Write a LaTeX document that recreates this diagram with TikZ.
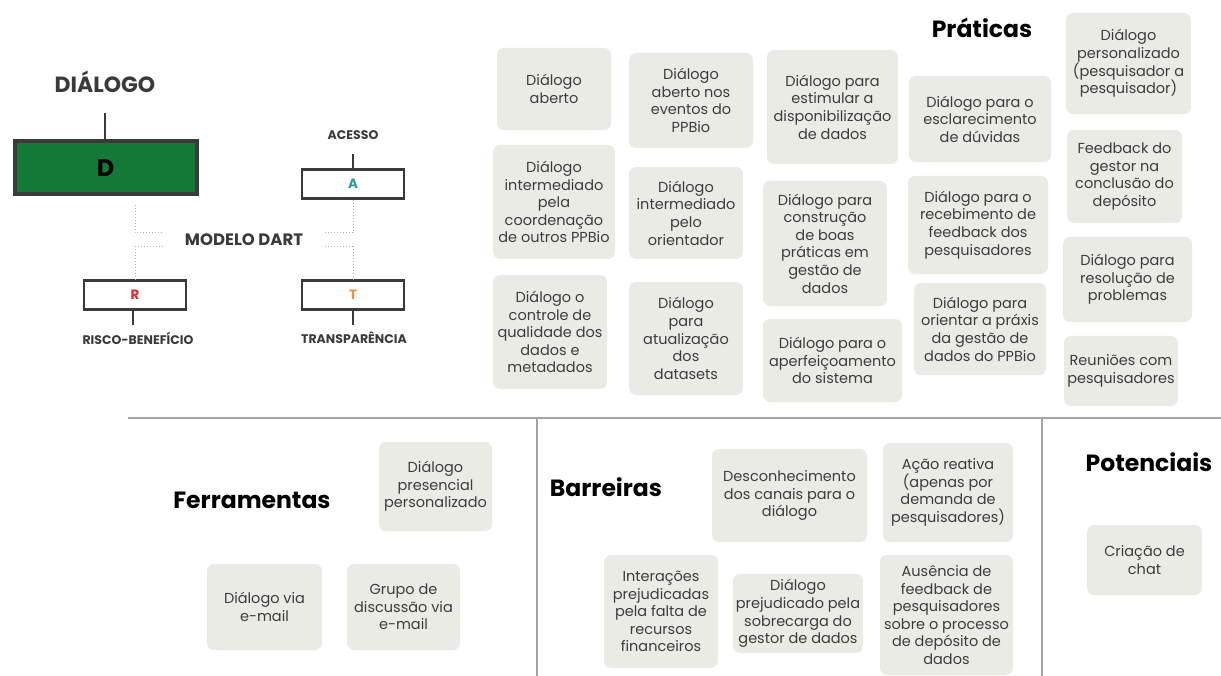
\documentclass[tikz,border=0pt]{standalone}
\usepackage{fontspec}
\setmainfont{Poppins}
\definecolor{boxgray}{HTML}{EBEBE6}
\definecolor{txtgray}{HTML}{3C3C3C}
\definecolor{sepgray}{HTML}{A3A3A3}
\definecolor{dgray}{HTML}{3A3A3A}
\definecolor{dgreen}{HTML}{117A37}
\definecolor{ateal}{HTML}{2A9D9A}
\definecolor{rred}{HTML}{E8262B}
\definecolor{torange}{HTML}{F0903C}
\definecolor{dotgray}{HTML}{B5B5B5}
\tikzset{
  gbox/.style={rounded corners=7pt, fill=boxgray, text=txtgray, align=center, inner sep=0pt,
    font=\fontsize{14.5}{17.6}\selectfont},
  heading/.style={font=\bfseries\fontsize{23.5}{25}\selectfont, text=black},
  dartlbl/.style={font=\bfseries\fontsize{12.5}{14}\selectfont, text=dgray},
  letterbox/.style={draw=dgray, line width=2.5pt, fill=white, minimum width=102pt, minimum height=29pt, inner sep=0pt,
    font=\bfseries\fontsize{13.5}{14}\selectfont},
  solidln/.style={draw=dgray, line width=2.5pt},
  dotln/.style={draw=dotgray, line width=1pt, dotted},
  sepln/.style={draw=sepgray, line width=1.3pt}
}
\newcommand\gb[6]{\node[gbox,minimum width={(#4)-(#2)},minimum height={(#5)-(#3)}] (#1) at ({((#2)+(#4))/2},{-((#3)+(#5))/2}) {#6};}
\begin{document}
\begin{tikzpicture}[x=1pt,y=1pt]
\useasboundingbox (0,0) rectangle (1221,-676);
\fill[white] (0,0) rectangle (1221,-676);

% ---------- DART model ----------
\node[font=\bfseries\fontsize{22}{22}\selectfont, text=dgray] (dialogo) at (105,-82) {DIÁLOGO};
\node[draw=dgray, line width=4pt, fill=dgreen, minimum width=182pt, minimum height=53pt, inner sep=0pt,
  font=\bfseries\fontsize{24}{24}\selectfont] (D) at (105.5,-168) {D};
\coordinate (dtop) at (105,-113);
\draw[solidln] (dtop) -- (D.north -| dtop);

\node[dartlbl] (acesso) at (353,-135) {ACESSO};
\node[letterbox, text=ateal] (A) at (353,-184) {A};
\coordinate (atop) at (353,-154);
\draw[solidln] (atop) -- (A.north);

\node[font=\bfseries\fontsize{16.5}{17}\selectfont, text=dgray] (modelo) at (244,-240) {MODELO DART};

\node[letterbox, text=rred] (R) at (135,-295) {R};
\node[letterbox, text=torange] (T) at (353,-295) {T};
\node[dartlbl] (risco) at (138,-338) {RISCO-BENEFÍCIO};
\node[dartlbl] (transp) at (354,-338) {TRANSPARÊNCIA};
\coordinate (rbot) at (133,-325);
\coordinate (tbot) at (353,-325);
\draw[solidln] (R.south -| rbot) -- (rbot);
\draw[solidln] (T.south) -- (tbot);

\coordinate (d1) at (135,-205);
\coordinate (d2) at (163,-233);
\coordinate (d3) at (163,-247);
\coordinate (a2) at (325,-233);
\coordinate (t2) at (325,-247);
\draw[dotln] (d1) |- (d2);
\draw[dotln] (d3) -| (R.north);
\draw[dotln] (A.south) |- (a2);
\draw[dotln] (t2) -| (T.north);

% ---------- separators ----------
\coordinate (h1) at (128,-418);
\coordinate (h2) at (1221,-418);
\coordinate (v1a) at (537,-418);
\coordinate (v1b) at (537,-676);
\coordinate (v2a) at (1042,-418);
\coordinate (v2b) at (1042,-676);
\draw[sepln] (h1) -- (h2);
\draw[sepln] (v1a) -- (v1b);
\draw[sepln] (v2a) -- (v2b);

% ---------- Práticas ----------
\node[heading] (praticas) at (982,-28) {Práticas};
\gb{p1}{497}{48}{611}{130}{Diálogo\\aberto}
\gb{p2}{629}{53}{753}{148}{Diálogo\\aberto nos\\eventos do\\PPBio}
\gb{p3}{767}{50}{898}{164}{Diálogo para\\estimular a\\disponibilização\\de dados}
\gb{p4}{909}{76}{1051}{162}{Diálogo para o\\esclarecimento\\de dúvidas}
\gb{p5}{1066}{13}{1191}{114}{Diálogo\\personalizado\\(pesquisador a\\pesquisador)}
\gb{p6}{493}{145}{615}{259}{Diálogo\\intermediado\\pela\\coordenação\\de outros PPBio}
\gb{p7}{629}{167}{743}{259}{Diálogo\\intermediado\\pelo\\orientador}
\gb{p8}{763}{181}{887}{306}{Diálogo para\\construção\\de boas\\práticas em\\gestão de\\dados}
\gb{p9}{908}{176}{1048}{274}{Diálogo para o\\recebimento de\\feedback dos\\pesquisadores}
\gb{p10}{1067}{130}{1182}{223}{Feedback do\\gestor na\\conclusão do\\depósito}
\gb{p11}{493}{275}{607}{389}{Diálogo o\\controle de\\qualidade dos\\dados e\\metadados}
\gb{p12}{629}{282}{743}{395}{Diálogo\\para\\atualização\\dos\\datasets}
\gb{p13}{763}{319}{902}{402}{Diálogo para o\\aperfeiçoamento\\do sistema}
\gb{p14}{914}{283}{1046}{375}{Diálogo para\\orientar a práxis\\da gestão de\\dados do PPBio}
\gb{p15}{1063}{237}{1192}{322}{Diálogo para\\resolução de\\problemas}
\gb{p16}{1064}{336}{1178}{406}{Reuniões com\\pesquisadores}

% ---------- Ferramentas ----------
\node[heading] (ferr) at (252,-500) {Ferramentas};
\gb{f1}{379}{442}{492}{531}{Diálogo\\presencial\\personalizado}
\gb{f2}{207}{564}{322}{650}{Diálogo via\\e-mail}
\gb{f3}{347}{564}{460}{650}{Grupo de\\discussão via\\e-mail}

% ---------- Barreiras ----------
\node[heading] (barr) at (606,-487) {Barreiras};
\gb{b1}{712}{449}{867}{542}{Desconhecimento\\dos canais para o\\diálogo}
\gb{b2}{883}{443}{1013}{542}{Ação reativa\\(apenas por\\demanda de\\pesquisadores)}
\gb{b3}{604}{555}{718}{668}{Interações\\prejudicadas\\pela falta de\\recursos\\financeiros}
\gb{b4}{733}{574}{863}{653}{Diálogo\\prejudicado pela\\sobrecarga do\\gestor de dados}
\gb{b5}{880}{555}{1013}{675}{Ausência de\\feedback de\\pesquisadores\\sobre o processo\\de depósito de\\dados}

% ---------- Potenciais ----------
\node[heading] (pot) at (1149,-462) {Potenciais};
\gb{c1}{1087}{525}{1202}{595}{Criação de\\chat}
\end{tikzpicture}
\end{document}
